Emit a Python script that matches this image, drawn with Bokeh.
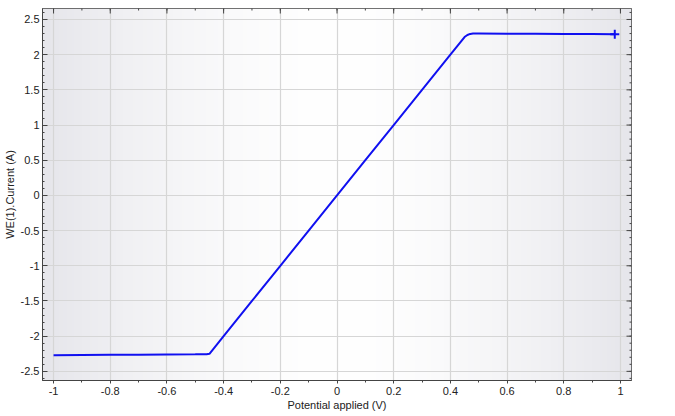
import numpy as np
from bokeh.plotting import figure
from bokeh.models import LinearAxis, FixedTicker, Range1d, Grid, ColumnDataSource
from bokeh.embed import file_html
from bokeh.resources import INLINE

# ---- data ----
potential = [-1.0, -0.9, -0.8, -0.7, -0.6, -0.5, -0.46, -0.45,
             -0.4, -0.3, -0.2, -0.1, 0.0, 0.1, 0.2, 0.3, 0.4, 0.45,
             0.46, 0.47, 0.48, 0.5, 0.6, 0.7, 0.8, 0.9, 0.98]
current = [-2.27, -2.268, -2.265, -2.263, -2.26, -2.258, -2.256, -2.25,
           -2.0, -1.5, -1.0, -0.5, 0.0, 0.5, 1.0, 1.5, 2.0, 2.25,
           2.28, 2.295, 2.30, 2.30, 2.298, 2.296, 2.294, 2.292, 2.29]

x_ticks = [-1, -0.8, -0.6, -0.4, -0.2, 0, 0.2, 0.4, 0.6, 0.8, 1]
x_tick_labels = ["-1", "-0.8", "-0.6", "-0.4", "-0.2", "0", "0.2", "0.4", "0.6", "0.8", "1"]
y_ticks = [-2.5, -2, -1.5, -1, -0.5, 0, 0.5, 1, 1.5, 2, 2.5]
y_tick_labels = ["-2.5", "-2", "-1.5", "-1", "-0.5", "0", "0.5", "1", "1.5", "2", "2.5"]

x_lo, x_hi = -1.039, 1.039
y_lo, y_hi = -2.63, 2.656

x_minor = [round(v, 2) for v in np.arange(-1.0, 1.0001, 0.1)]
y_minor = [round(v, 2) for v in np.arange(-2.6, 2.6001, 0.1)]

xt = FixedTicker(ticks=x_ticks, minor_ticks=x_minor)
yt = FixedTicker(ticks=y_ticks, minor_ticks=y_minor)

p = figure(width=659, height=413, x_range=Range1d(x_lo, x_hi), y_range=Range1d(y_lo, y_hi),
           output_backend="svg", toolbar_location=None,
           x_axis_type=None, y_axis_type=None,
           min_border_left=10, min_border_right=28, min_border_top=8, min_border_bottom=10)
p.background_fill_color = "white"
p.border_fill_color = "white"
p.outline_line_color = "#444444"
p.outline_line_width = 1

# background gradient (white centre, grey edges)
n = 300
t = np.linspace(-1, 1, n)
shade = np.abs(t) ** 1.6
r = (255 - shade * 25).astype(np.uint32)
g = (255 - shade * 25).astype(np.uint32)
b = (255 - shade * 20).astype(np.uint32)
row = (255 << 24) | (b << 16) | (g << 8) | r
img = np.tile(row, (2, 1)).astype(np.uint32)
p.image_rgba(image=[img], x=x_lo, y=y_lo, dw=x_hi - x_lo, dh=y_hi - y_lo, level="image")

font = "Liberation Sans"
label_col = "#222222"
axis_col = "#444444"

def style(ax):
    ax.axis_line_color = axis_col
    ax.major_tick_line_color = axis_col
    ax.minor_tick_line_color = axis_col
    ax.major_label_text_font = font
    ax.major_label_text_font_size = "11px"
    ax.major_label_text_color = label_col
    ax.axis_label_text_font = font
    ax.axis_label_text_font_size = "11px"
    ax.axis_label_text_font_style = "normal"
    ax.axis_label_text_color = label_col

xb = LinearAxis(ticker=xt, axis_label="Potential applied (V)",
                major_label_overrides={v: s for v, s in zip(x_ticks, x_tick_labels)})
style(xb)
xb.major_tick_in = 0
xb.major_tick_out = 3
xb.minor_tick_in = 0
xb.minor_tick_out = 2
xb.major_label_standoff = 3
xb.axis_label_standoff = 1
p.add_layout(xb, "below")

yl = LinearAxis(ticker=yt, axis_label="WE(1).Current (A)",
                major_label_overrides={v: s for v, s in zip(y_ticks, y_tick_labels)})
style(yl)
yl.major_tick_in = 5
yl.major_tick_out = 0
yl.minor_tick_in = 2
yl.minor_tick_out = 0
yl.major_label_standoff = 3
yl.axis_label_standoff = 2
p.add_layout(yl, "left")

for dim, tk in ((0, xt), (1, yt)):
    gr = Grid(dimension=dim, ticker=tk, grid_line_color="#d6d6d6", grid_line_width=1.2)
    p.add_layout(gr)

# inward ticks on the top and right frame edges (clipped to the frame)
p.scatter(x=x_ticks, y=[y_hi] * len(x_ticks), marker="dash", angle=np.pi / 2, size=10,
          line_color=axis_col, line_width=1)
p.scatter(x=x_minor, y=[y_hi] * len(x_minor), marker="dash", angle=np.pi / 2, size=4,
          line_color=axis_col, line_width=1)
p.scatter(x=[x_hi] * len(y_ticks), y=y_ticks, marker="dash", size=10,
          line_color=axis_col, line_width=1)
p.scatter(x=[x_hi] * len(y_minor), y=y_minor, marker="dash", size=4,
          line_color=axis_col, line_width=1)

src = ColumnDataSource(dict(x=potential, y=current))
p.line("x", "y", source=src, line_color="#1010f0", line_width=2)
p.scatter(x=[potential[-1]], y=[current[-1]], marker="cross", size=9,
          line_color="#1010f0", line_width=2)

open("out.html", "w").write(file_html(p, INLINE))
